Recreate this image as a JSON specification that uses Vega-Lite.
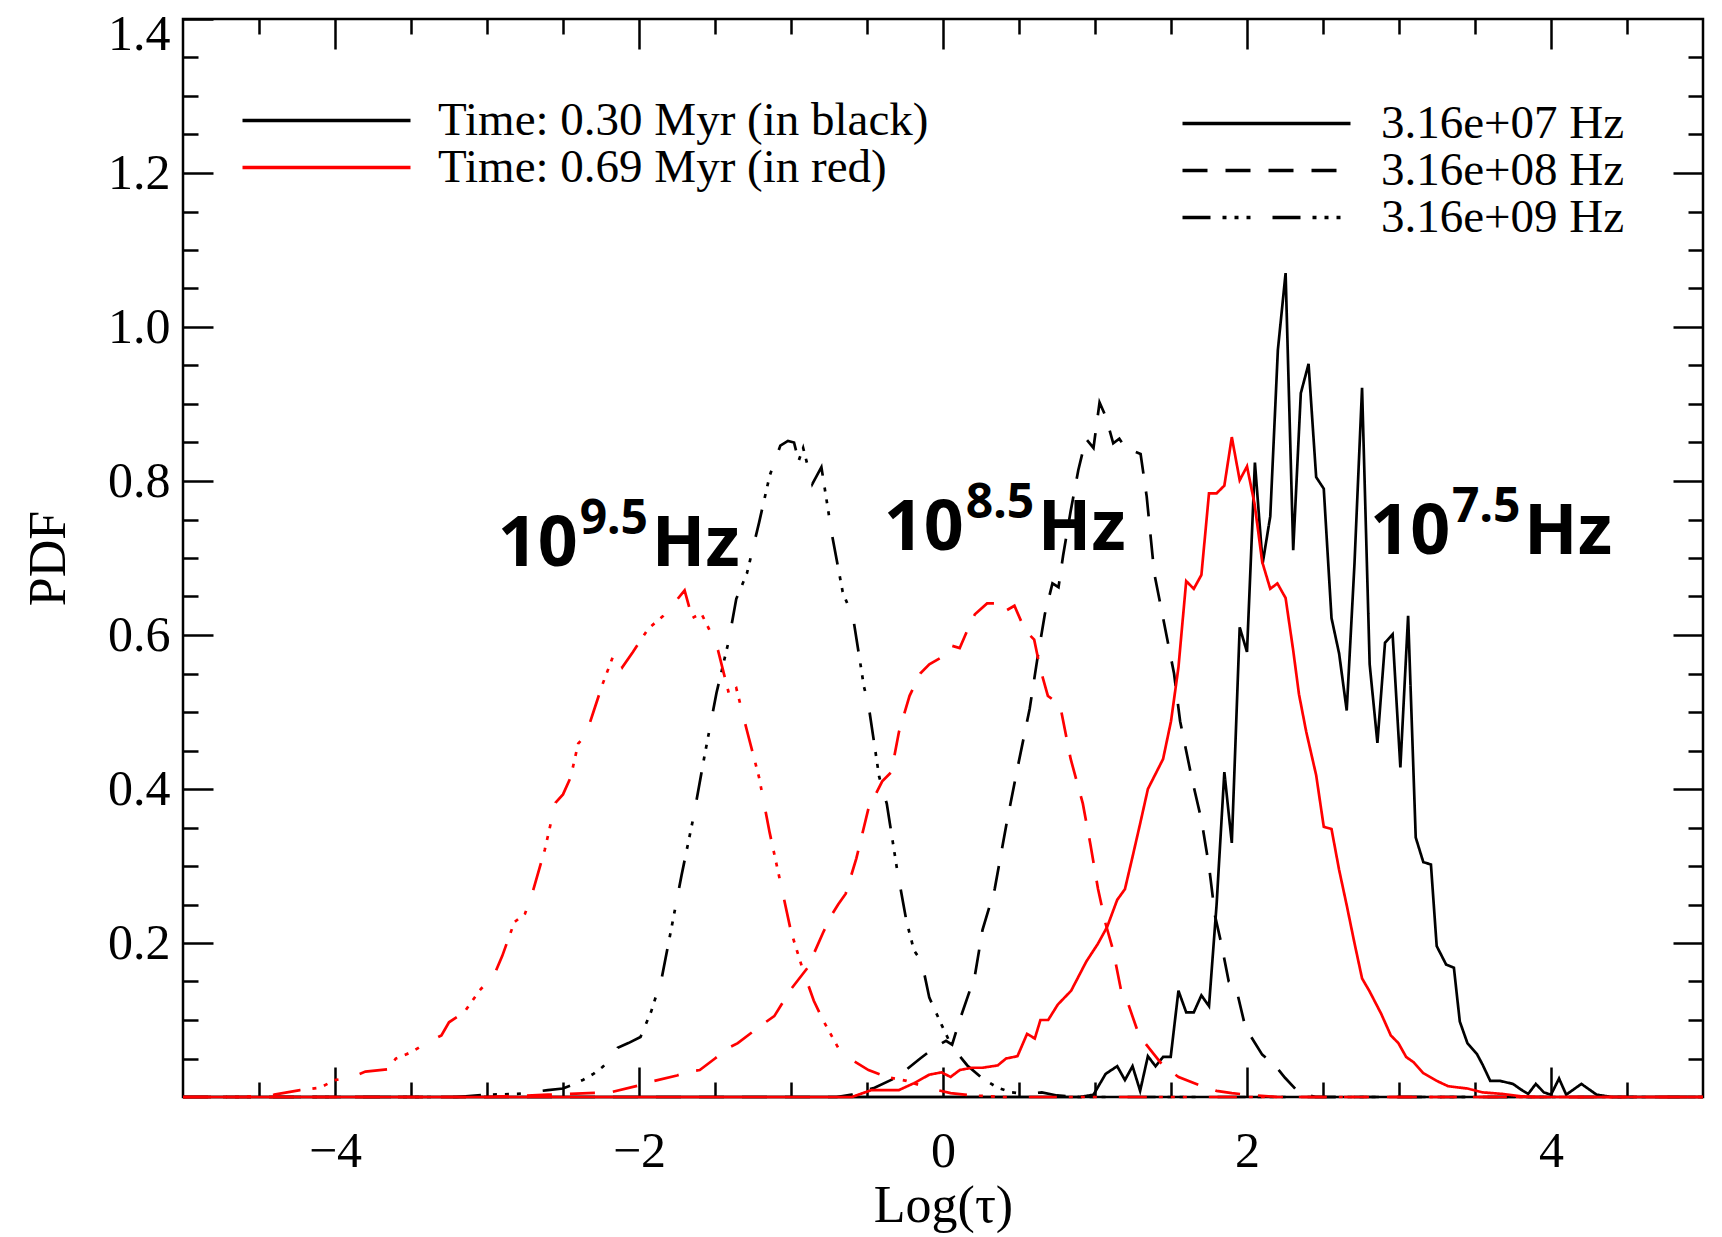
{
  "$schema": "https://vega.github.io/schema/vega-lite/v6.json",
  "width": 1520,
  "height": 1078,
  "autosize": {"type": "none"},
  "padding": {"left": 183, "top": 19, "right": 19, "bottom": 140},
  "background": "white",
  "config": {"view": {"stroke": "black", "strokeWidth": 2.5}, "font": "Liberation Serif"},
  "datasets": {
    "ann": [
      {"x": -2.93, "y": 0.69, "b": "10", "s": "9.5", "u": "Hz"},
      {"x": -0.39, "y": 0.71, "b": "10", "s": "8.5", "u": "Hz"},
      {"x": 2.81, "y": 0.705, "b": "10", "s": "7.5", "u": "Hz"}
    ],
    "curves": [
      {"t":"b","f":"09","x":-5,"y":0},{"t":"b","f":"09","x":-3.2,"y":0},{"t":"b","f":"09","x":-3.0,"y":0.003},{"t":"b","f":"09","x":-2.8,"y":0.004},{"t":"b","f":"09","x":-2.6,"y":0.009},{"t":"b","f":"09","x":-2.5,"y":0.011},{"t":"b","f":"09","x":-2.45,"y":0.015},{"t":"b","f":"09","x":-2.37,"y":0.022},{"t":"b","f":"09","x":-2.3,"y":0.03},{"t":"b","f":"09","x":-2.24,"y":0.039},{"t":"b","f":"09","x":-2.18,"y":0.05},{"t":"b","f":"09","x":-2.14,"y":0.064},{"t":"b","f":"09","x":-2.07,"y":0.07},{"t":"b","f":"09","x":-1.99,"y":0.078},{"t":"b","f":"09","x":-1.92,"y":0.111},{"t":"b","f":"09","x":-1.85,"y":0.155},{"t":"b","f":"09","x":-1.79,"y":0.216},{"t":"b","f":"09","x":-1.72,"y":0.288},{"t":"b","f":"09","x":-1.64,"y":0.365},{"t":"b","f":"09","x":-1.57,"y":0.442},{"t":"b","f":"09","x":-1.49,"y":0.525},{"t":"b","f":"09","x":-1.41,"y":0.592},{"t":"b","f":"09","x":-1.36,"y":0.647},{"t":"b","f":"09","x":-1.29,"y":0.68},{"t":"b","f":"09","x":-1.21,"y":0.746},{"t":"b","f":"09","x":-1.14,"y":0.807},{"t":"b","f":"09","x":-1.07,"y":0.846},{"t":"b","f":"09","x":-1.02,"y":0.852},{"t":"b","f":"09","x":-0.98,"y":0.85},{"t":"b","f":"09","x":-0.95,"y":0.826},{"t":"b","f":"09","x":-0.92,"y":0.843},{"t":"b","f":"09","x":-0.86,"y":0.796},{"t":"b","f":"09","x":-0.8,"y":0.818},{"t":"b","f":"09","x":-0.73,"y":0.73},{"t":"b","f":"09","x":-0.66,"y":0.656},{"t":"b","f":"09","x":-0.59,"y":0.621},{"t":"b","f":"09","x":-0.52,"y":0.533},{"t":"b","f":"09","x":-0.49,"y":0.509},{"t":"b","f":"09","x":-0.42,"y":0.416},{"t":"b","f":"09","x":-0.37,"y":0.381},{"t":"b","f":"09","x":-0.3,"y":0.293},{"t":"b","f":"09","x":-0.24,"y":0.228},{"t":"b","f":"09","x":-0.19,"y":0.19},{"t":"b","f":"09","x":-0.14,"y":0.176},{"t":"b","f":"09","x":-0.09,"y":0.129},{"t":"b","f":"09","x":-0.01,"y":0.094},{"t":"b","f":"09","x":0.06,"y":0.065},{"t":"b","f":"09","x":0.16,"y":0.041},{"t":"b","f":"09","x":0.26,"y":0.024},{"t":"b","f":"09","x":0.36,"y":0.012},{"t":"b","f":"09","x":0.45,"y":0.006},{"t":"b","f":"09","x":0.55,"y":0.004},{"t":"b","f":"09","x":0.65,"y":0.006},{"t":"b","f":"09","x":0.75,"y":0.002},{"t":"b","f":"09","x":0.9,"y":0},{"t":"b","f":"09","x":5,"y":0},

      {"t":"r","f":"09","x":-5,"y":0},{"t":"r","f":"09","x":-4.6,"y":0},{"t":"r","f":"09","x":-4.4,"y":0.003},{"t":"r","f":"09","x":-4.23,"y":0.009},{"t":"r","f":"09","x":-4.1,"y":0.012},{"t":"r","f":"09","x":-4.0,"y":0.022},{"t":"r","f":"09","x":-3.9,"y":0.025},{"t":"r","f":"09","x":-3.8,"y":0.033},{"t":"r","f":"09","x":-3.65,"y":0.036},{"t":"r","f":"09","x":-3.6,"y":0.05},{"t":"r","f":"09","x":-3.5,"y":0.058},{"t":"r","f":"09","x":-3.4,"y":0.07},{"t":"r","f":"09","x":-3.3,"y":0.08},{"t":"r","f":"09","x":-3.25,"y":0.097},{"t":"r","f":"09","x":-3.15,"y":0.11},{"t":"r","f":"09","x":-3.05,"y":0.138},{"t":"r","f":"09","x":-2.95,"y":0.16},{"t":"r","f":"09","x":-2.9,"y":0.183},{"t":"r","f":"09","x":-2.82,"y":0.227},{"t":"r","f":"09","x":-2.75,"y":0.238},{"t":"r","f":"09","x":-2.7,"y":0.266},{"t":"r","f":"09","x":-2.62,"y":0.321},{"t":"r","f":"09","x":-2.55,"y":0.382},{"t":"r","f":"09","x":-2.5,"y":0.393},{"t":"r","f":"09","x":-2.45,"y":0.415},{"t":"r","f":"09","x":-2.4,"y":0.459},{"t":"r","f":"09","x":-2.35,"y":0.47},{"t":"r","f":"09","x":-2.3,"y":0.5},{"t":"r","f":"09","x":-2.24,"y":0.536},{"t":"r","f":"09","x":-2.16,"y":0.578},{"t":"r","f":"09","x":-2.11,"y":0.558},{"t":"r","f":"09","x":-2.04,"y":0.578},{"t":"r","f":"09","x":-1.94,"y":0.608},{"t":"r","f":"09","x":-1.84,"y":0.625},{"t":"r","f":"09","x":-1.77,"y":0.641},{"t":"r","f":"09","x":-1.7,"y":0.658},{"t":"r","f":"09","x":-1.65,"y":0.622},{"t":"r","f":"09","x":-1.59,"y":0.628},{"t":"r","f":"09","x":-1.54,"y":0.608},{"t":"r","f":"09","x":-1.48,"y":0.58},{"t":"r","f":"09","x":-1.41,"y":0.525},{"t":"r","f":"09","x":-1.36,"y":0.531},{"t":"r","f":"09","x":-1.29,"y":0.476},{"t":"r","f":"09","x":-1.21,"y":0.415},{"t":"r","f":"09","x":-1.14,"y":0.343},{"t":"r","f":"09","x":-1.06,"y":0.27},{"t":"r","f":"09","x":-1.0,"y":0.215},{"t":"r","f":"09","x":-0.92,"y":0.164},{"t":"r","f":"09","x":-0.85,"y":0.125},{"t":"r","f":"09","x":-0.79,"y":0.1},{"t":"r","f":"09","x":-0.69,"y":0.064},{"t":"r","f":"09","x":-0.59,"y":0.047},{"t":"r","f":"09","x":-0.49,"y":0.035},{"t":"r","f":"09","x":-0.37,"y":0.026},{"t":"r","f":"09","x":-0.24,"y":0.021},{"t":"r","f":"09","x":-0.1,"y":0.012},{"t":"r","f":"09","x":0.05,"y":0.005},{"t":"r","f":"09","x":0.2,"y":0.002},{"t":"r","f":"09","x":0.4,"y":0},{"t":"r","f":"09","x":5,"y":0},

      {"t":"b","f":"08","x":-5,"y":0},{"t":"b","f":"08","x":-0.7,"y":0},{"t":"b","f":"08","x":-0.6,"y":0.003},{"t":"b","f":"08","x":-0.45,"y":0.012},{"t":"b","f":"08","x":-0.3,"y":0.026},{"t":"b","f":"08","x":-0.15,"y":0.05},{"t":"b","f":"08","x":-0.05,"y":0.065},{"t":"b","f":"08","x":0.02,"y":0.073},{"t":"b","f":"08","x":0.06,"y":0.068},{"t":"b","f":"08","x":0.11,"y":0.1},{"t":"b","f":"08","x":0.19,"y":0.146},{"t":"b","f":"08","x":0.21,"y":0.158},{"t":"b","f":"08","x":0.26,"y":0.217},{"t":"b","f":"08","x":0.34,"y":0.27},{"t":"b","f":"08","x":0.42,"y":0.357},{"t":"b","f":"08","x":0.49,"y":0.427},{"t":"b","f":"08","x":0.57,"y":0.504},{"t":"b","f":"08","x":0.62,"y":0.568},{"t":"b","f":"08","x":0.67,"y":0.627},{"t":"b","f":"08","x":0.72,"y":0.667},{"t":"b","f":"08","x":0.76,"y":0.662},{"t":"b","f":"08","x":0.79,"y":0.703},{"t":"b","f":"08","x":0.84,"y":0.761},{"t":"b","f":"08","x":0.89,"y":0.814},{"t":"b","f":"08","x":0.94,"y":0.855},{"t":"b","f":"08","x":0.99,"y":0.843},{"t":"b","f":"08","x":1.03,"y":0.902},{"t":"b","f":"08","x":1.07,"y":0.884},{"t":"b","f":"08","x":1.12,"y":0.849},{"t":"b","f":"08","x":1.16,"y":0.855},{"t":"b","f":"08","x":1.2,"y":0.843},{"t":"b","f":"08","x":1.3,"y":0.835},{"t":"b","f":"08","x":1.34,"y":0.78},{"t":"b","f":"08","x":1.39,"y":0.68},{"t":"b","f":"08","x":1.45,"y":0.62},{"t":"b","f":"08","x":1.52,"y":0.55},{"t":"b","f":"08","x":1.56,"y":0.488},{"t":"b","f":"08","x":1.64,"y":0.411},{"t":"b","f":"08","x":1.7,"y":0.36},{"t":"b","f":"08","x":1.75,"y":0.3},{"t":"b","f":"08","x":1.79,"y":0.235},{"t":"b","f":"08","x":1.83,"y":0.2},{"t":"b","f":"08","x":1.88,"y":0.15},{"t":"b","f":"08","x":1.93,"y":0.14},{"t":"b","f":"08","x":1.99,"y":0.09},{"t":"b","f":"08","x":2.1,"y":0.055},{"t":"b","f":"08","x":2.18,"y":0.042},{"t":"b","f":"08","x":2.25,"y":0.025},{"t":"b","f":"08","x":2.34,"y":0.006},{"t":"b","f":"08","x":2.45,"y":0},{"t":"b","f":"08","x":5,"y":0},

      {"t":"r","f":"08","x":-5,"y":0},{"t":"r","f":"08","x":-3.0,"y":0},{"t":"r","f":"08","x":-2.6,"y":0.003},{"t":"r","f":"08","x":-2.19,"y":0.006},{"t":"r","f":"08","x":-2.0,"y":0.015},{"t":"r","f":"08","x":-1.92,"y":0.02},{"t":"r","f":"08","x":-1.75,"y":0.028},{"t":"r","f":"08","x":-1.67,"y":0.033},{"t":"r","f":"08","x":-1.6,"y":0.035},{"t":"r","f":"08","x":-1.5,"y":0.05},{"t":"r","f":"08","x":-1.41,"y":0.064},{"t":"r","f":"08","x":-1.35,"y":0.07},{"t":"r","f":"08","x":-1.25,"y":0.085},{"t":"r","f":"08","x":-1.19,"y":0.094},{"t":"r","f":"08","x":-1.11,"y":0.105},{"t":"r","f":"08","x":-1.0,"y":0.14},{"t":"r","f":"08","x":-0.89,"y":0.168},{"t":"r","f":"08","x":-0.79,"y":0.213},{"t":"r","f":"08","x":-0.74,"y":0.234},{"t":"r","f":"08","x":-0.69,"y":0.25},{"t":"r","f":"08","x":-0.64,"y":0.264},{"t":"r","f":"08","x":-0.57,"y":0.31},{"t":"r","f":"08","x":-0.49,"y":0.375},{"t":"r","f":"08","x":-0.4,"y":0.41},{"t":"r","f":"08","x":-0.34,"y":0.422},{"t":"r","f":"08","x":-0.29,"y":0.474},{"t":"r","f":"08","x":-0.22,"y":0.521},{"t":"r","f":"08","x":-0.15,"y":0.55},{"t":"r","f":"08","x":-0.09,"y":0.562},{"t":"r","f":"08","x":-0.01,"y":0.571},{"t":"r","f":"08","x":0.06,"y":0.586},{"t":"r","f":"08","x":0.11,"y":0.583},{"t":"r","f":"08","x":0.16,"y":0.606},{"t":"r","f":"08","x":0.21,"y":0.627},{"t":"r","f":"08","x":0.29,"y":0.641},{"t":"r","f":"08","x":0.36,"y":0.641},{"t":"r","f":"08","x":0.4,"y":0.63},{"t":"r","f":"08","x":0.47,"y":0.638},{"t":"r","f":"08","x":0.54,"y":0.606},{"t":"r","f":"08","x":0.6,"y":0.594},{"t":"r","f":"08","x":0.64,"y":0.556},{"t":"r","f":"08","x":0.69,"y":0.521},{"t":"r","f":"08","x":0.77,"y":0.509},{"t":"r","f":"08","x":0.84,"y":0.439},{"t":"r","f":"08","x":0.92,"y":0.381},{"t":"r","f":"08","x":0.97,"y":0.328},{"t":"r","f":"08","x":1.02,"y":0.27},{"t":"r","f":"08","x":1.07,"y":0.225},{"t":"r","f":"08","x":1.12,"y":0.19},{"t":"r","f":"08","x":1.17,"y":0.14},{"t":"r","f":"08","x":1.22,"y":0.12},{"t":"r","f":"08","x":1.29,"y":0.08},{"t":"r","f":"08","x":1.37,"y":0.06},{"t":"r","f":"08","x":1.45,"y":0.04},{"t":"r","f":"08","x":1.55,"y":0.026},{"t":"r","f":"08","x":1.69,"y":0.015},{"t":"r","f":"08","x":1.8,"y":0.008},{"t":"r","f":"08","x":1.9,"y":0.005},{"t":"r","f":"08","x":2.0,"y":0.003},{"t":"r","f":"08","x":2.2,"y":0},{"t":"r","f":"08","x":5,"y":0},

      {"t":"b","f":"07","x":-5,"y":0},{"t":"b","f":"07","x":0.9,"y":0},{"t":"b","f":"07","x":0.99,"y":0.003},{"t":"b","f":"07","x":1.07,"y":0.03},{"t":"b","f":"07","x":1.146,"y":0.04},{"t":"b","f":"07","x":1.197,"y":0.022},{"t":"b","f":"07","x":1.247,"y":0.04},{"t":"b","f":"07","x":1.297,"y":0.008},{"t":"b","f":"07","x":1.348,"y":0.053},{"t":"b","f":"07","x":1.398,"y":0.04},{"t":"b","f":"07","x":1.448,"y":0.052},{"t":"b","f":"07","x":1.498,"y":0.052},{"t":"b","f":"07","x":1.549,"y":0.138},{"t":"b","f":"07","x":1.6,"y":0.11},{"t":"b","f":"07","x":1.65,"y":0.11},{"t":"b","f":"07","x":1.7,"y":0.132},{"t":"b","f":"07","x":1.75,"y":0.118},{"t":"b","f":"07","x":1.8,"y":0.25},{"t":"b","f":"07","x":1.851,"y":0.422},{"t":"b","f":"07","x":1.9,"y":0.33},{"t":"b","f":"07","x":1.952,"y":0.61},{"t":"b","f":"07","x":2.0,"y":0.578},{"t":"b","f":"07","x":2.052,"y":0.824},{"t":"b","f":"07","x":2.103,"y":0.693},{"t":"b","f":"07","x":2.153,"y":0.754},{"t":"b","f":"07","x":2.203,"y":0.97},{"t":"b","f":"07","x":2.254,"y":1.07},{"t":"b","f":"07","x":2.304,"y":0.71},{"t":"b","f":"07","x":2.354,"y":0.914},{"t":"b","f":"07","x":2.405,"y":0.952},{"t":"b","f":"07","x":2.455,"y":0.805},{"t":"b","f":"07","x":2.505,"y":0.79},{"t":"b","f":"07","x":2.556,"y":0.622},{"t":"b","f":"07","x":2.606,"y":0.576},{"t":"b","f":"07","x":2.656,"y":0.502},{"t":"b","f":"07","x":2.707,"y":0.692},{"t":"b","f":"07","x":2.757,"y":0.921},{"t":"b","f":"07","x":2.807,"y":0.562},{"t":"b","f":"07","x":2.858,"y":0.46},{"t":"b","f":"07","x":2.908,"y":0.59},{"t":"b","f":"07","x":2.958,"y":0.601},{"t":"b","f":"07","x":3.009,"y":0.428},{"t":"b","f":"07","x":3.06,"y":0.625},{"t":"b","f":"07","x":3.11,"y":0.337},{"t":"b","f":"07","x":3.16,"y":0.305},{"t":"b","f":"07","x":3.21,"y":0.302},{"t":"b","f":"07","x":3.248,"y":0.196},{"t":"b","f":"07","x":3.31,"y":0.172},{"t":"b","f":"07","x":3.361,"y":0.168},{"t":"b","f":"07","x":3.4,"y":0.098},{"t":"b","f":"07","x":3.45,"y":0.07},{"t":"b","f":"07","x":3.512,"y":0.056},{"t":"b","f":"07","x":3.55,"y":0.042},{"t":"b","f":"07","x":3.6,"y":0.021},{"t":"b","f":"07","x":3.663,"y":0.021},{"t":"b","f":"07","x":3.75,"y":0.017},{"t":"b","f":"07","x":3.8,"y":0.01},{"t":"b","f":"07","x":3.85,"y":0.004},{"t":"b","f":"07","x":3.9,"y":0.017},{"t":"b","f":"07","x":3.953,"y":0.006},{"t":"b","f":"07","x":4.0,"y":0.003},{"t":"b","f":"07","x":4.053,"y":0.024},{"t":"b","f":"07","x":4.1,"y":0.003},{"t":"b","f":"07","x":4.15,"y":0.01},{"t":"b","f":"07","x":4.2,"y":0.017},{"t":"b","f":"07","x":4.3,"y":0.003},{"t":"b","f":"07","x":4.4,"y":0},{"t":"b","f":"07","x":5,"y":0},

      {"t":"r","f":"07","x":-5,"y":0},{"t":"r","f":"07","x":-0.6,"y":0},{"t":"r","f":"07","x":-0.47,"y":0.009},{"t":"r","f":"07","x":-0.29,"y":0.009},{"t":"r","f":"07","x":-0.19,"y":0.018},{"t":"r","f":"07","x":-0.09,"y":0.029},{"t":"r","f":"07","x":-0.01,"y":0.032},{"t":"r","f":"07","x":0.05,"y":0.026},{"t":"r","f":"07","x":0.11,"y":0.035},{"t":"r","f":"07","x":0.19,"y":0.038},{"t":"r","f":"07","x":0.26,"y":0.038},{"t":"r","f":"07","x":0.36,"y":0.041},{"t":"r","f":"07","x":0.415,"y":0.05},{"t":"r","f":"07","x":0.49,"y":0.053},{"t":"r","f":"07","x":0.553,"y":0.082},{"t":"r","f":"07","x":0.604,"y":0.076},{"t":"r","f":"07","x":0.641,"y":0.1},{"t":"r","f":"07","x":0.692,"y":0.1},{"t":"r","f":"07","x":0.755,"y":0.12},{"t":"r","f":"07","x":0.843,"y":0.138},{"t":"r","f":"07","x":0.943,"y":0.176},{"t":"r","f":"07","x":1.019,"y":0.199},{"t":"r","f":"07","x":1.08,"y":0.221},{"t":"r","f":"07","x":1.146,"y":0.256},{"t":"r","f":"07","x":1.197,"y":0.27},{"t":"r","f":"07","x":1.247,"y":0.312},{"t":"r","f":"07","x":1.297,"y":0.355},{"t":"r","f":"07","x":1.348,"y":0.4},{"t":"r","f":"07","x":1.448,"y":0.439},{"t":"r","f":"07","x":1.5,"y":0.488},{"t":"r","f":"07","x":1.549,"y":0.558},{"t":"r","f":"07","x":1.6,"y":0.67},{"t":"r","f":"07","x":1.65,"y":0.66},{"t":"r","f":"07","x":1.7,"y":0.678},{"t":"r","f":"07","x":1.75,"y":0.784},{"t":"r","f":"07","x":1.8,"y":0.784},{"t":"r","f":"07","x":1.851,"y":0.794},{"t":"r","f":"07","x":1.9,"y":0.857},{"t":"r","f":"07","x":1.952,"y":0.801},{"t":"r","f":"07","x":2.0,"y":0.819},{"t":"r","f":"07","x":2.05,"y":0.77},{"t":"r","f":"07","x":2.1,"y":0.695},{"t":"r","f":"07","x":2.153,"y":0.66},{"t":"r","f":"07","x":2.2,"y":0.667},{"t":"r","f":"07","x":2.254,"y":0.648},{"t":"r","f":"07","x":2.304,"y":0.58},{"t":"r","f":"07","x":2.342,"y":0.523},{"t":"r","f":"07","x":2.39,"y":0.474},{"t":"r","f":"07","x":2.455,"y":0.418},{"t":"r","f":"07","x":2.505,"y":0.351},{"t":"r","f":"07","x":2.556,"y":0.348},{"t":"r","f":"07","x":2.606,"y":0.295},{"t":"r","f":"07","x":2.656,"y":0.249},{"t":"r","f":"07","x":2.707,"y":0.2},{"t":"r","f":"07","x":2.757,"y":0.154},{"t":"r","f":"07","x":2.807,"y":0.137},{"t":"r","f":"07","x":2.883,"y":0.108},{"t":"r","f":"07","x":2.946,"y":0.08},{"t":"r","f":"07","x":2.996,"y":0.07},{"t":"r","f":"07","x":3.047,"y":0.052},{"t":"r","f":"07","x":3.097,"y":0.045},{"t":"r","f":"07","x":3.16,"y":0.031},{"t":"r","f":"07","x":3.248,"y":0.021},{"t":"r","f":"07","x":3.323,"y":0.014},{"t":"r","f":"07","x":3.45,"y":0.011},{"t":"r","f":"07","x":3.55,"y":0.006},{"t":"r","f":"07","x":3.68,"y":0.004},{"t":"r","f":"07","x":3.8,"y":0.001},{"t":"r","f":"07","x":3.9,"y":0},{"t":"r","f":"07","x":5,"y":0}
    ]
  },
  "resolve": {"axis": {"x": "independent", "y": "independent"}},
  "layer": [
    {
      "data": {"name": "curves"},
      "transform": [{"filter": "datum.t == 'b'"}],
      "mark": {"type": "line", "strokeWidth": 2.7, "strokeCap": "butt", "strokeJoin": "miter"},
      "encoding": {
        "x": {"field": "x", "type": "quantitative", "scale": {"domain": [-5, 5], "nice": false, "zero": false},
          "axis": {"orient": "bottom", "values": [-4, -2, 0, 2, 4], "tickSize": -30, "tickWidth": 2.5, "tickColor": "black", "domain": false, "grid": false,
            "labelFont": "Liberation Serif", "labelFontSize": 50, "labelColor": "black", "labelPadding": 99, "labelBaseline": "alphabetic", "labelOverlap": false,
            "labelExpr": "datum.value < 0 ? '\u2212' + abs(datum.value) : '' + datum.value",
            "title": "Log(\u03c4)", "titleFont": "Liberation Serif", "titleFontSize": 52, "titleFontWeight": "normal", "titleColor": "black", "titleBaseline": "alphabetic", "titleY": 124}},
        "y": {"field": "y", "type": "quantitative", "scale": {"domain": [0, 1.4], "nice": false, "zero": false},
          "axis": {"orient": "left", "values": [0.2, 0.4, 0.6, 0.8, 1.0, 1.2, 1.4], "format": ".1f", "tickSize": -30, "tickWidth": 2.5, "tickColor": "black", "domain": false, "grid": false,
            "labelFont": "Liberation Serif", "labelFontSize": 50, "labelColor": "black", "labelPadding": 43, "labelOverlap": false, "labelBaseline": "middle",
            "labelOffset": {"condition": {"test": "datum.value > 1.3", "value": 15}, "value": 0},
            "title": "PDF", "titleFont": "Liberation Serif", "titleFontSize": 52, "titleFontWeight": "normal", "titleColor": "black", "titleBaseline": "alphabetic", "titleX": -119}},
        "color": {"field": "t", "type": "nominal", "scale": {"domain": ["b", "r"], "range": ["#000000", "#ff0000"]},
          "legend": {"orient": "none", "legendX": 120, "legendY": 78, "title": null, "symbolType": "M-4,0H4", "symbolSize": 1764, "symbolStrokeWidth": 3.5, "symbolFillColor": "transparent",
            "labelFont": "Liberation Serif", "labelFontSize": 47, "labelColor": "black", "labelOffset": 88, "labelLimit": 1000, "rowPadding": -4, "padding": 0,
            "labelExpr": "datum.label == 'b' ? 'Time: 0.30 Myr (in black)' : 'Time: 0.69 Myr (in red)'"}},
        "strokeDash": {"field": "f", "type": "nominal", "scale": {"domain": ["07", "08", "09"], "range": [[1, 0], [25, 18], [28, 12, 4, 8, 4, 8, 4, 22]]},
          "legend": {"orient": "none", "legendX": 1060, "legendY": 81, "title": null, "symbolType": "M-4,0H4", "symbolSize": 1764, "symbolStrokeWidth": 3.5, "symbolStrokeColor": "black", "symbolFillColor": "transparent",
            "labelFont": "Liberation Serif", "labelFontSize": 47, "labelColor": "black", "labelOffset": 91, "labelLimit": 1000, "rowPadding": -7, "padding": 0,
            "labelExpr": "'3.16e+' + datum.label + ' Hz'"}}
      }
    },
    {
      "data": {"name": "curves"},
      "transform": [{"filter": "datum.t == 'r'"}],
      "mark": {"type": "line", "strokeWidth": 2.7, "strokeCap": "butt", "strokeJoin": "miter"},
      "encoding": {
        "x": {"field": "x", "type": "quantitative", "scale": {"domain": [-5, 5], "nice": false, "zero": false},
          "axis": {"orient": "bottom", "values": [-4.5, -3.5, -3, -2.5, -1.5, -1, -0.5, 0.5, 1, 1.5, 2.5, 3, 3.5, 4.5], "tickSize": -15, "tickWidth": 2.5, "tickColor": "black", "domain": false, "grid": false, "labels": false, "title": null}},
        "y": {"field": "y", "type": "quantitative", "scale": {"domain": [0, 1.4], "nice": false, "zero": false},
          "axis": {"orient": "left", "values": [0.05, 0.1, 0.15, 0.25, 0.3, 0.35, 0.45, 0.5, 0.55, 0.65, 0.7, 0.75, 0.85, 0.9, 0.95, 1.05, 1.1, 1.15, 1.25, 1.3, 1.35], "tickSize": -15, "tickWidth": 2.5, "tickColor": "black", "domain": false, "grid": false, "labels": false, "title": null}},
        "color": {"field": "t", "type": "nominal", "scale": {"domain": ["b", "r"], "range": ["#000000", "#ff0000"]},
          "legend": {"orient": "none", "legendX": 120, "legendY": 78, "title": null, "symbolType": "M-4,0H4", "symbolSize": 1764, "symbolStrokeWidth": 3.5, "symbolFillColor": "transparent",
            "labelFont": "Liberation Serif", "labelFontSize": 47, "labelColor": "black", "labelOffset": 88, "labelLimit": 1000, "rowPadding": -4, "padding": 0,
            "labelExpr": "datum.label == 'b' ? 'Time: 0.30 Myr (in black)' : 'Time: 0.69 Myr (in red)'"}},
        "strokeDash": {"field": "f", "type": "nominal", "scale": {"domain": ["07", "08", "09"], "range": [[1, 0], [25, 18], [28, 12, 4, 8, 4, 8, 4, 22]]},
          "legend": {"orient": "none", "legendX": 1060, "legendY": 81, "title": null, "symbolType": "M-4,0H4", "symbolSize": 1764, "symbolStrokeWidth": 3.5, "symbolStrokeColor": "black", "symbolFillColor": "transparent",
            "labelFont": "Liberation Serif", "labelFontSize": 47, "labelColor": "black", "labelOffset": 91, "labelLimit": 1000, "rowPadding": -7, "padding": 0,
            "labelExpr": "'3.16e+' + datum.label + ' Hz'"}}
      }
    },
    {
      "data": {"name": "ann"},
      "mark": {"type": "text", "font": "Noto Sans", "fontWeight": "bold", "fontStyle": "normal", "fontSize": 70, "align": "left", "baseline": "alphabetic", "color": "black"},
      "encoding": {
        "x": {"field": "x", "type": "quantitative", "scale": {"domain": [-5, 5], "nice": false, "zero": false},
          "axis": {"orient": "top", "values": [-4, -2, 0, 2, 4], "tickSize": -30, "tickWidth": 2.5, "tickColor": "black", "domain": false, "grid": false, "labels": false, "title": null}},
        "y": {"field": "y", "type": "quantitative", "scale": {"domain": [0, 1.4], "nice": false, "zero": false},
          "axis": {"orient": "right", "values": [0.2, 0.4, 0.6, 0.8, 1.0, 1.2], "tickSize": -30, "tickWidth": 2.5, "tickColor": "black", "domain": false, "grid": false, "labels": false, "title": null}},
        "text": {"field": "b"}
      }
    },
    {
      "data": {"name": "ann"},
      "mark": {"type": "text", "font": "Noto Sans", "fontWeight": "bold", "fontStyle": "normal", "fontSize": 48, "align": "left", "baseline": "alphabetic", "color": "black", "dx": 82, "dy": -32},
      "encoding": {
        "x": {"field": "x", "type": "quantitative", "scale": {"domain": [-5, 5], "nice": false, "zero": false},
          "axis": {"orient": "top", "values": [-4.5, -3.5, -3, -2.5, -1.5, -1, -0.5, 0.5, 1, 1.5, 2.5, 3, 3.5, 4.5], "tickSize": -15, "tickWidth": 2.5, "tickColor": "black", "domain": false, "grid": false, "labels": false, "title": null}},
        "y": {"field": "y", "type": "quantitative", "scale": {"domain": [0, 1.4], "nice": false, "zero": false},
          "axis": {"orient": "right", "values": [0.05, 0.1, 0.15, 0.25, 0.3, 0.35, 0.45, 0.5, 0.55, 0.65, 0.7, 0.75, 0.85, 0.9, 0.95, 1.05, 1.1, 1.15, 1.25, 1.3, 1.35], "tickSize": -15, "tickWidth": 2.5, "tickColor": "black", "domain": false, "grid": false, "labels": false, "title": null}},
        "text": {"field": "s"}
      }
    },
    {
      "data": {"name": "ann"},
      "mark": {"type": "text", "font": "Noto Sans", "fontWeight": "bold", "fontStyle": "normal", "fontSize": 70, "align": "left", "baseline": "alphabetic", "color": "black", "dx": 154},
      "encoding": {
        "x": {"field": "x", "type": "quantitative", "scale": {"domain": [-5, 5], "nice": false, "zero": false}, "axis": null},
        "y": {"field": "y", "type": "quantitative", "scale": {"domain": [0, 1.4], "nice": false, "zero": false}, "axis": null},
        "text": {"field": "u"}
      }
    }
  ]
}
